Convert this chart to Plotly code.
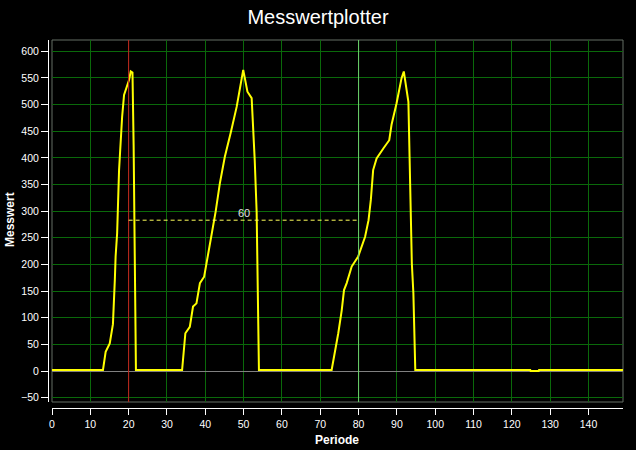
import plotly.graph_objects as go

# Measured signal (Periode vs Messwert)
periode = [0, 13.3, 14.0, 15.07, 15.9, 16.2, 16.4, 16.6, 17.0, 17.5, 17.9, 18.3, 18.8, 19.6, 20.1,
           20.55, 21.0, 21.3, 21.6, 21.9,
           33.95, 34.8, 35.96, 36.8, 37.7, 38.6, 39.7, 40.5, 41.6, 42.7, 43.8, 45.1, 46.7, 48.2,
           49.9, 51.0, 52.1, 52.6, 52.9, 53.4, 53.6, 53.8, 54.0,
           72.97, 73.8, 74.7, 75.6, 76.2, 76.9, 78.2, 79.9, 81.7, 82.6, 83.2, 83.8, 84.7, 86.5,
           88.0, 88.6, 89.9, 91.2, 91.8, 93.0, 93.2, 93.6, 93.9, 94.3, 94.5, 94.8,
           124.8, 124.9, 127.0, 127.1, 149]
messwert = [2, 2, 36, 52, 88, 130, 172, 215, 259, 377, 433, 477, 518, 534, 546,
            562, 560, 424, 143, 2,
            2, 71, 83, 121, 127, 165, 177, 208, 258, 299, 352, 402, 449, 496,
            565, 524, 512, 452, 396, 299, 199, 99, 2,
            2, 33, 71, 114, 152, 165, 196, 215, 252, 283, 321, 377, 399, 418,
            433, 462, 502, 549, 562, 505, 433, 296, 202, 146, 74, 2,
            2, 0, 0, 2, 2]

x_ticks = list(range(0, 141, 10))
y_ticks = list(range(-50, 601, 50))
cursor_red = 20
cursor_green = 80
delta_level = 283
delta_label = "60"

W, H = 636, 450
ml, mr, mt, mb = 40, 13, 40, 36
pw, ph = W - ml - mr, H - mt - mb
plot_left, plot_bottom, yaxis_px, xaxis_px = 52, 402, 48, 408
xdom0 = (plot_left - ml) / pw
ydom0 = (H - mb - plot_bottom) / ph
ypos = (yaxis_px - ml) / pw
xpos = (H - mb - xaxis_px) / ph

font = "Liberation Sans, Arial, sans-serif"
grid = "rgb(10,105,10)"

fig = go.Figure()
fig.add_trace(go.Scatter(x=periode, y=messwert, mode="lines",
                         line=dict(color="#ffff00", width=2), showlegend=False,
                         hoverinfo="skip"))

fig.update_layout(
    width=W, height=H,
    margin=dict(l=ml, r=mr, t=mt, b=mb, autoexpand=False),
    paper_bgcolor="black", plot_bgcolor="black",
    title=dict(text="Messwertplotter", x=0.5, xref="container", xanchor="center",
               y=1 - 17 / H, yref="container", yanchor="middle",
               font=dict(family=font, size=20, color="white")),
    xaxis=dict(domain=[xdom0, 1], range=[0, 149], anchor="free", position=xpos,
               tickvals=x_ticks, ticks="outside", ticklen=6, tickcolor="white",
               showline=True, linecolor="white", linewidth=1,
               showgrid=True, gridcolor=grid, gridwidth=1, zeroline=False,
               tickfont=dict(family=font, size=10.5, color="white"), automargin=False),
    yaxis=dict(domain=[ydom0, 1], range=[-58, 621], anchor="free", position=ypos,
               tickvals=y_ticks, ticks="outside", ticklen=7, tickcolor="white",
               showline=True, linecolor="white", linewidth=1,
               showgrid=True, gridcolor=grid, gridwidth=1,
               zeroline=True, zerolinecolor="rgb(128,128,128)", zerolinewidth=1,
               tickfont=dict(family=font, size=10.5, color="white"), automargin=False),
)

# plot border
fig.add_shape(type="rect", xref="x domain", yref="y domain", x0=0, x1=1, y0=0, y1=1,
              line=dict(color="rgb(100,110,100)", width=1), layer="below")
# cursors
fig.add_shape(type="line", xref="x", yref="y domain", x0=cursor_red, x1=cursor_red, y0=0, y1=1,
              line=dict(color="rgb(200,30,30)", width=1))
fig.add_shape(type="line", xref="x", yref="y domain", x0=cursor_green, x1=cursor_green, y0=0, y1=1,
              line=dict(color="rgb(110,210,110)", width=1))
fig.add_shape(type="line", xref="x", yref="y", x0=cursor_red, x1=cursor_green,
              y0=delta_level, y1=delta_level,
              line=dict(color="rgb(255,255,90)", width=1, dash="4px,3px"))
fig.add_annotation(x=(cursor_red + cursor_green) / 2, y=delta_level, text=delta_label,
                   showarrow=False, yanchor="bottom", yshift=-1,
                   font=dict(family=font, size=11, color="rgb(225,225,225)"))

# axis titles
fig.add_annotation(text="<b>Periode</b>", xref="paper", yref="paper",
                   x=(337 - ml) / pw, y=(H - mb - 440) / ph, showarrow=False,
                   xanchor="center", yanchor="middle",
                   font=dict(family=font, size=12, color="white"))
fig.add_annotation(text="<b>Messwert</b>", xref="paper", yref="paper",
                   x=(10 - ml) / pw, y=(H - mb - 220) / ph, showarrow=False, textangle=-90,
                   xanchor="center", yanchor="middle",
                   font=dict(family=font, size=12, color="white"))

fig.write_html("out.html", config={"displayModeBar": False},
               post_script="document.body.style.margin='0';document.body.style.background='black';")
